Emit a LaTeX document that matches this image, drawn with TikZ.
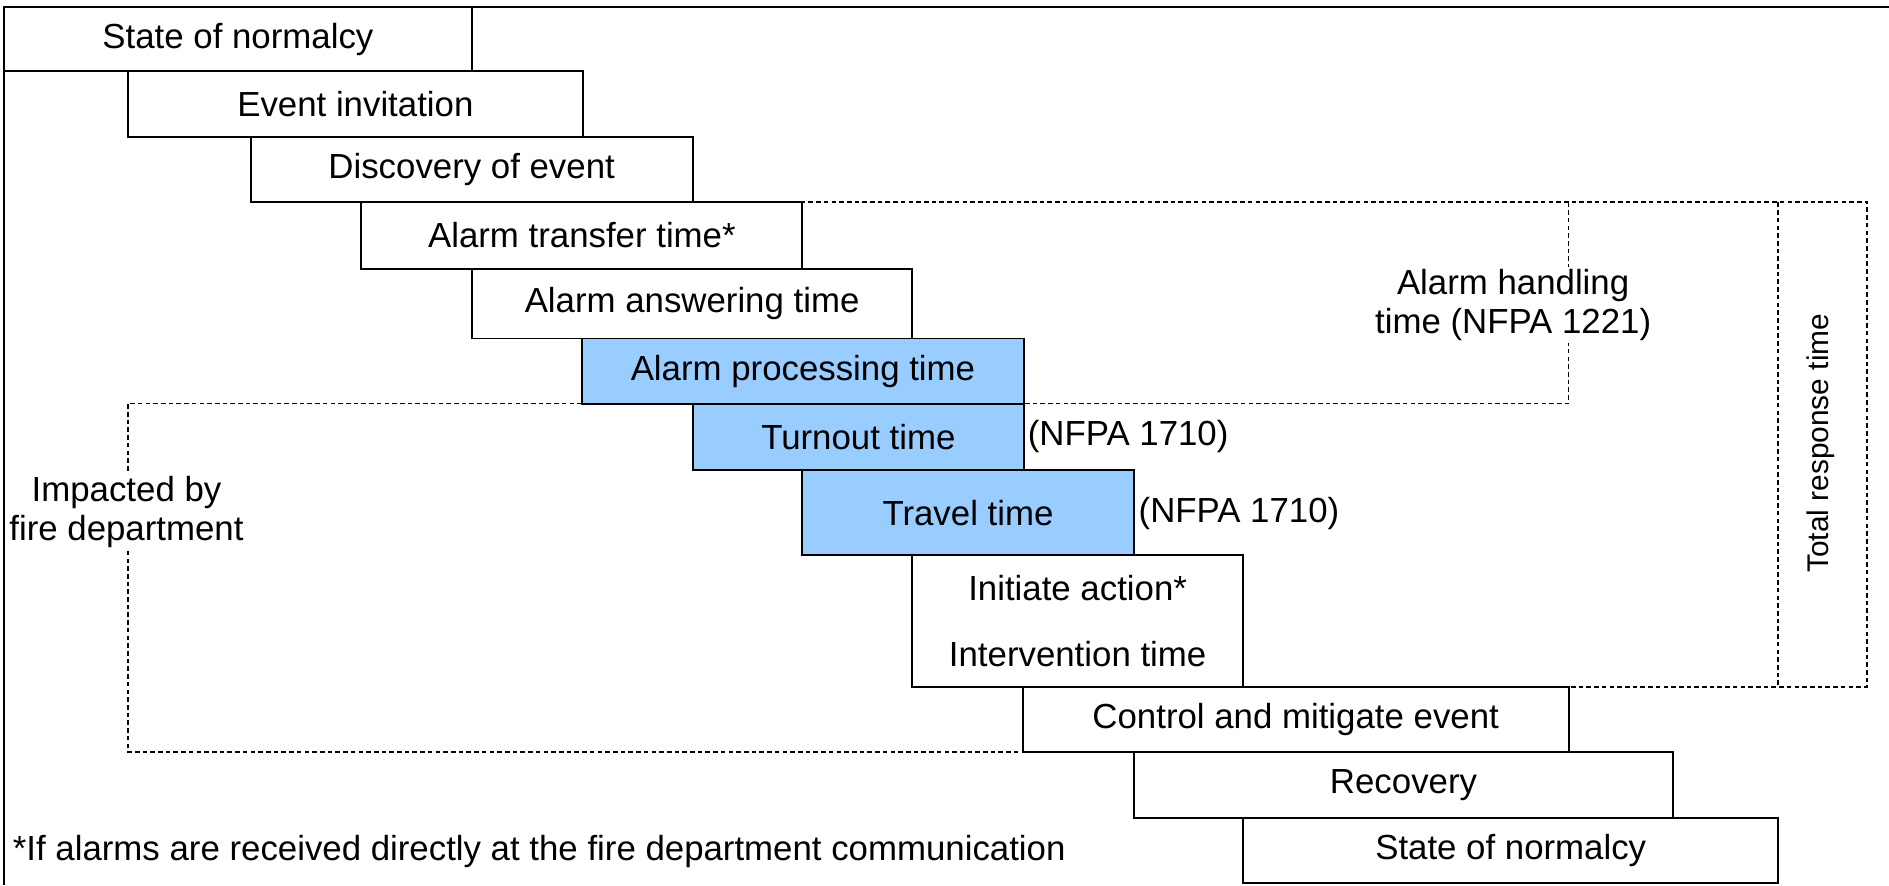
\documentclass[tikz,border=0pt]{standalone}
\usepackage{fontspec}
\setmainfont{Liberation Sans}
\definecolor{procblue}{RGB}{153,204,255}
\newcommand\diafont{\fontsize{28.9}{32.5}\selectfont}
\newcommand\rotfont{\fontsize{24.8}{30}\selectfont}
\begin{document}
\begin{tikzpicture}[x=1pt,y=-1pt,
  box/.style={draw, line width=1.6pt, fill=white, inner sep=0pt, font=\diafont},
  bluebox/.style={box, fill=procblue},
  dotline/.style={line width=1.5pt, dash pattern=on 3.8pt off 2.6pt},
  lbl/.style={inner sep=0pt, font=\diafont, align=center},
  lblw/.style={lbl, fill=white, inner sep=2pt}]
\useasboundingbox (0,0) rectangle (1568,735);
% outer frame (top and left only)
\coordinate (ftl) at (3,6);
\coordinate (ftr) at (1568,6);
\coordinate (fbl) at (3,735);
\draw[line width=1.6pt] (ftr) -- (ftl) -- (fbl);
% dotted regions
\coordinate (d1) at (575,168);
\coordinate (d2) at (1550,168);
\coordinate (d3) at (1302,168);
\coordinate (d4) at (1302,335);
\coordinate (d5) at (850,335);
\coordinate (d6) at (1476,168);
\coordinate (d7) at (1476,570);
\coordinate (d8) at (1550,570);
\coordinate (d9) at (1032,570);
\coordinate (e1) at (483,335);
\coordinate (e2) at (106,335);
\coordinate (e3) at (106,624);
\coordinate (e4) at (849,624);
\draw[dotline] (d1) -- (d2) -- (d8) -- (d9);
\draw[dotline] (d3) -- (d4) -- (d5);
\draw[dotline] (d6) -- (d7);
\draw[dotline] (e1) -- (e2) -- (e3) -- (e4);
% step boxes
\node[box, minimum width=389pt, minimum height=53pt] (s1) at (197.5,32.5) {State of normalcy};
\node[box, minimum width=378pt, minimum height=55pt] (ev) at (295,86.5) {Event invitation};
\node[box, minimum width=367pt, minimum height=54pt] (dis) at (391.5,141) {Discovery of event};
\node[box, minimum width=366pt, minimum height=55pt] (tr) at (483,195.5) {Alarm transfer time*};
\node[box, minimum width=365pt, minimum height=58pt] (ans) at (574.5,252) {Alarm answering time};
\node[bluebox, minimum width=367pt, minimum height=54pt] (proc) at (666.5,308) {Alarm processing time};
\node[bluebox, minimum width=275pt, minimum height=55pt] (turn) at (712.5,362.5) {Turnout time};
\node[bluebox, minimum width=275pt, minimum height=71pt] (trav) at (803.5,425.5) {Travel time};
\node[box, minimum width=275pt, minimum height=109pt] (int) at (894.5,515.5) {};
\node[lbl] (int1) at (894.5,488) {Initiate action*};
\node[lbl] (int2) at (894.5,543) {Intervention time};
\node[box, minimum width=453pt, minimum height=54pt] (ctl) at (1075.5,597) {Control and mitigate event};
\node[box, minimum width=448pt, minimum height=55pt] (rec) at (1165,651.5) {Recovery};
\node[box, minimum width=444pt, minimum height=54pt] (s2) at (1254,706) {State of normalcy};
% labels
\node[lblw] (ah) at (1256,253) {Alarm handling\\time (NFPA 1221)};
\node[lblw] (imp) at (105,425) {Impacted by\\fire department};
\node[lbl, rotate=90, font=\rotfont] (trt) at (1511,368) {Total response time};
\node[lbl, anchor=west] (n1) at (853,362) {(NFPA 1710)};
\node[lbl, anchor=west] (n2) at (945,426) {(NFPA 1710)};
\node[lbl, anchor=west] (fn) at (10.5,707) {*If alarms are received directly at the fire department communication};
\end{tikzpicture}
\end{document}
